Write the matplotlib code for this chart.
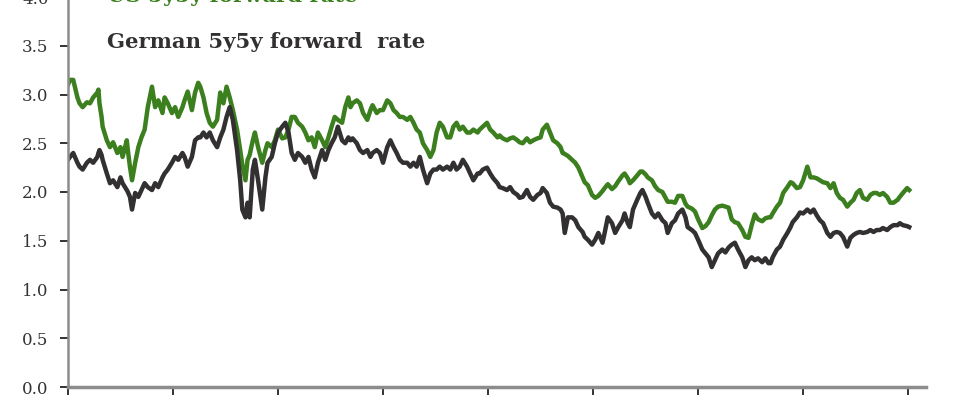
import matplotlib
matplotlib.use("Agg")
import matplotlib.pyplot as plt

# time in years from start of series (ticks mark each year)
years = [0.00, 0.02, 0.05, 0.09, 0.11, 0.14, 0.18, 0.21, 0.24, 0.28, 0.29, 0.30, 0.32, 0.33, 0.37, 0.40,
         0.43, 0.47, 0.50, 0.52, 0.56, 0.57, 0.59, 0.61, 0.64, 0.67, 0.70, 0.73, 0.76, 0.80, 0.83, 0.86,
         0.90, 0.92, 0.95, 0.99, 1.02, 1.05, 1.09, 1.11, 1.14, 1.18, 1.21, 1.24, 1.26, 1.29, 1.32, 1.35,
         1.38, 1.42, 1.45, 1.48, 1.51, 1.54, 1.57, 1.61, 1.64, 1.66, 1.69, 1.71, 1.73, 1.76, 1.78, 1.81,
         1.85, 1.88, 1.90, 1.94, 1.97, 2.00, 2.04, 2.07, 2.10, 2.13, 2.16, 2.19, 2.23, 2.26, 2.29, 2.32,
         2.35, 2.38, 2.42, 2.45, 2.48, 2.51, 2.54, 2.57, 2.61, 2.64, 2.67, 2.69, 2.71, 2.75, 2.78, 2.81,
         2.85, 2.88, 2.90, 2.94, 2.97, 3.00, 3.04, 3.07, 3.10, 3.13, 3.16, 3.19, 3.23, 3.26, 3.29, 3.32,
         3.35, 3.38, 3.42, 3.45, 3.48, 3.51, 3.54, 3.57, 3.61, 3.64, 3.67, 3.70, 3.73, 3.76, 3.80, 3.83,
         3.86, 3.90, 3.92, 3.95, 3.99, 4.02, 4.05, 4.09, 4.11, 4.14, 4.18, 4.21, 4.24, 4.28, 4.30, 4.33,
         4.37, 4.40, 4.43, 4.47, 4.50, 4.52, 4.56, 4.59, 4.62, 4.66, 4.69, 4.71, 4.73, 4.76, 4.80, 4.83,
         4.86, 4.90, 4.92, 4.95, 4.99, 5.02, 5.05, 5.09, 5.11, 5.14, 5.18, 5.21, 5.24, 5.28, 5.30, 5.33,
         5.35, 5.38, 5.42, 5.45, 5.47, 5.50, 5.52, 5.56, 5.59, 5.62, 5.66, 5.69, 5.71, 5.75, 5.78, 5.81,
         5.85, 5.88, 5.90, 5.94, 5.97, 6.00, 6.04, 6.07, 6.10, 6.13, 6.16, 6.19, 6.23, 6.26, 6.29, 6.32,
         6.35, 6.38, 6.42, 6.45, 6.48, 6.51, 6.54, 6.57, 6.61, 6.64, 6.67, 6.69, 6.71, 6.75, 6.78, 6.81,
         6.85, 6.88, 6.90, 6.94, 6.97, 7.00, 7.04, 7.07, 7.10, 7.13, 7.16, 7.19, 7.23, 7.26, 7.29, 7.32,
         7.35, 7.38, 7.42, 7.45, 7.48, 7.51, 7.54, 7.57, 7.61, 7.64, 7.67, 7.70, 7.73, 7.76, 7.80, 7.83,
         7.86, 7.90, 7.92, 7.95, 7.99, 8.01]

us_5y5y = [3.10, 3.15, 3.15, 2.97, 2.91, 2.87, 2.92, 2.91, 2.97, 3.02, 3.05, 2.91, 2.77, 2.67, 2.53, 2.46,
           2.51, 2.40, 2.46, 2.36, 2.53, 2.43, 2.26, 2.12, 2.30, 2.46, 2.56, 2.64, 2.87, 3.08, 2.87, 2.94,
           2.81, 2.97, 2.91, 2.81, 2.87, 2.77, 2.87, 2.94, 3.03, 2.84, 3.02, 3.12, 3.08, 2.97, 2.81, 2.71,
           2.67, 2.74, 3.02, 2.91, 3.08, 2.97, 2.84, 2.64, 2.43, 2.28, 2.12, 2.33, 2.38, 2.53, 2.61, 2.46,
           2.30, 2.43, 2.50, 2.46, 2.53, 2.64, 2.55, 2.56, 2.64, 2.77, 2.77, 2.71, 2.67, 2.61, 2.53, 2.56,
           2.46, 2.61, 2.53, 2.46, 2.56, 2.67, 2.77, 2.74, 2.71, 2.87, 2.97, 2.87, 2.91, 2.94, 2.91, 2.81,
           2.74, 2.84, 2.89, 2.81, 2.84, 2.84, 2.94, 2.91, 2.84, 2.81, 2.77, 2.77, 2.74, 2.77, 2.71, 2.64,
           2.61, 2.50, 2.43, 2.36, 2.43, 2.61, 2.71, 2.67, 2.56, 2.56, 2.67, 2.71, 2.64, 2.67, 2.61, 2.61,
           2.64, 2.61, 2.64, 2.67, 2.71, 2.64, 2.61, 2.56, 2.58, 2.55, 2.53, 2.55, 2.56, 2.53, 2.51, 2.50,
           2.55, 2.51, 2.53, 2.55, 2.56, 2.64, 2.69, 2.61, 2.53, 2.50, 2.46, 2.40, 2.39, 2.37, 2.33, 2.30,
           2.25, 2.15, 2.10, 2.07, 1.97, 1.94, 1.96, 2.01, 2.04, 2.08, 2.03, 2.06, 2.11, 2.17, 2.19, 2.14,
           2.09, 2.12, 2.17, 2.21, 2.21, 2.18, 2.15, 2.12, 2.06, 2.02, 2.00, 1.94, 1.90, 1.90, 1.89, 1.96,
           1.96, 1.88, 1.85, 1.83, 1.80, 1.72, 1.63, 1.65, 1.69, 1.76, 1.82, 1.85, 1.86, 1.85, 1.84, 1.72,
           1.69, 1.68, 1.61, 1.54, 1.53, 1.66, 1.77, 1.72, 1.70, 1.73, 1.74, 1.74, 1.78, 1.85, 1.89, 1.99,
           2.05, 2.10, 2.09, 2.04, 2.05, 2.12, 2.26, 2.15, 2.15, 2.14, 2.12, 2.10, 2.09, 2.04, 2.09, 1.99,
           1.94, 1.92, 1.85, 1.89, 1.92, 1.99, 2.02, 1.94, 1.92, 1.97, 1.99, 1.99, 1.97, 1.99, 1.95, 1.89,
           1.89, 1.92, 1.95, 1.99, 2.04, 2.02]

german_5y5y = [2.33, 2.36, 2.40, 2.30, 2.26, 2.23, 2.30, 2.33, 2.30, 2.36, 2.40, 2.43, 2.38, 2.33, 2.19, 2.09,
               2.12, 2.05, 2.15, 2.09, 2.02, 2.00, 1.95, 1.82, 1.99, 1.95, 2.02, 2.09, 2.05, 2.02, 2.09, 2.05,
               2.15, 2.19, 2.23, 2.30, 2.36, 2.33, 2.40, 2.36, 2.26, 2.36, 2.53, 2.56, 2.56, 2.61, 2.56, 2.61,
               2.53, 2.46, 2.56, 2.64, 2.77, 2.87, 2.74, 2.43, 2.12, 1.82, 1.74, 1.89, 1.74, 2.23, 2.33, 2.12,
               1.82, 2.15, 2.30, 2.36, 2.50, 2.61, 2.67, 2.71, 2.61, 2.40, 2.33, 2.40, 2.36, 2.30, 2.36, 2.23,
               2.15, 2.30, 2.43, 2.33, 2.43, 2.50, 2.56, 2.67, 2.53, 2.50, 2.56, 2.53, 2.55, 2.50, 2.43, 2.40,
               2.43, 2.36, 2.40, 2.43, 2.40, 2.30, 2.46, 2.53, 2.46, 2.40, 2.33, 2.30, 2.30, 2.26, 2.30, 2.26,
               2.36, 2.23, 2.09, 2.19, 2.23, 2.23, 2.26, 2.23, 2.26, 2.23, 2.30, 2.23, 2.26, 2.33, 2.26, 2.19,
               2.12, 2.19, 2.19, 2.23, 2.25, 2.19, 2.14, 2.09, 2.05, 2.04, 2.02, 2.05, 2.00, 1.97, 1.94, 1.95,
               2.02, 1.95, 1.92, 1.97, 1.99, 2.04, 1.99, 1.89, 1.85, 1.84, 1.82, 1.78, 1.58, 1.74, 1.74, 1.71,
               1.64, 1.59, 1.54, 1.51, 1.46, 1.51, 1.58, 1.48, 1.58, 1.74, 1.68, 1.58, 1.64, 1.71, 1.78, 1.68,
               1.64, 1.82, 1.92, 1.99, 2.02, 1.95, 1.89, 1.78, 1.74, 1.78, 1.71, 1.68, 1.58, 1.68, 1.71, 1.78,
               1.82, 1.74, 1.64, 1.61, 1.58, 1.51, 1.41, 1.37, 1.33, 1.23, 1.30, 1.37, 1.41, 1.38, 1.43, 1.46,
               1.48, 1.41, 1.33, 1.23, 1.30, 1.33, 1.30, 1.32, 1.28, 1.32, 1.27, 1.27, 1.33, 1.41, 1.44, 1.51,
               1.58, 1.64, 1.69, 1.74, 1.79, 1.78, 1.82, 1.79, 1.82, 1.76, 1.71, 1.68, 1.58, 1.54, 1.58, 1.59,
               1.58, 1.54, 1.44, 1.53, 1.56, 1.58, 1.59, 1.58, 1.59, 1.61, 1.59, 1.61, 1.61, 1.63, 1.61, 1.64,
               1.66, 1.66, 1.68, 1.66, 1.65, 1.64]

y_ticks = [0.0, 0.5, 1.0, 1.5, 2.0, 2.5, 3.0, 3.5, 4.0]
year_ticks = [0, 1, 2, 3, 4, 5, 6, 7, 8]

green = '#3c7f1e'
dark = '#333031'
axis_grey = '#8c8c8c'

fig = plt.figure(figsize=(9.6, 4.0), dpi=100)
ax = fig.add_axes([0.0708, 0.0325, 0.8938, 0.975])

ax.plot(years, us_5y5y, color=green, linewidth=3.2, solid_joinstyle='round')
ax.plot(years, german_5y5y, color=dark, linewidth=3.2, solid_joinstyle='round')

ax.set_xlim(0, 8.17)
ax.set_ylim(0, 4.0)
ax.set_yticks(y_ticks)
ax.set_yticklabels(['%.1f' % t for t in y_ticks], family='DejaVu Serif', fontsize=12, color='#333333')
ax.set_xticks(year_ticks)
ax.set_xticklabels([])

for s in ['top', 'right']:
    ax.spines[s].set_visible(False)
ax.spines['left'].set_color(axis_grey)
ax.spines['left'].set_linewidth(1.8)
ax.spines['bottom'].set_color(axis_grey)
ax.spines['bottom'].set_linewidth(2.5)
ax.tick_params(axis='both', direction='out', length=6, width=1.4, color='#333333', pad=8)

ax.text(0.37, 3.95, 'US 5y5y forward rate', color=green, fontsize=15.2, fontweight='bold',
        family='DejaVu Serif', va='baseline')
ax.text(0.37, 3.48, 'German 5y5y forward  rate', color=dark, fontsize=15.2, fontweight='bold',
        family='DejaVu Serif', va='baseline')

fig.savefig('out.png', dpi=100)
